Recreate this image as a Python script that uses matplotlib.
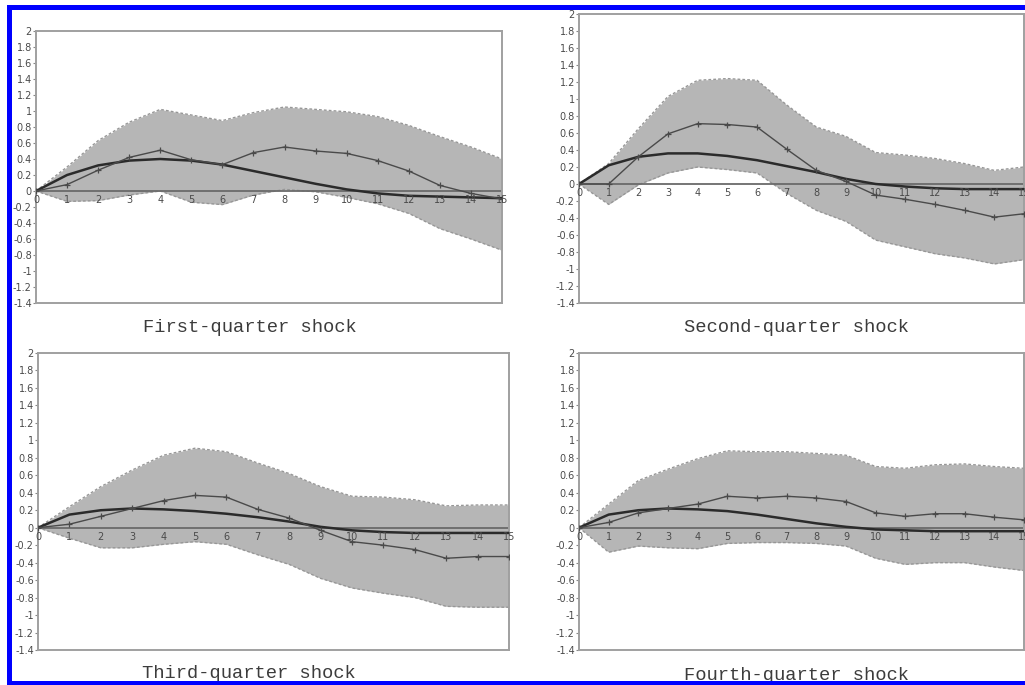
import numpy as np
import matplotlib.pyplot as plt
from matplotlib.patches import Rectangle

fig = plt.figure(figsize=(10.25, 6.85), dpi=100)

quarters = np.arange(16)
y_ticks = [2, 1.8, 1.6, 1.4, 1.2, 1, 0.8, 0.6, 0.4, 0.2, 0, -0.2, -0.4, -0.6, -0.8, -1, -1.2, -1.4]

# first-quarter shock
q1_upper = [0, 0.30, 0.63, 0.86, 1.02, 0.95, 0.88, 0.98, 1.05, 1.02, 0.99, 0.93, 0.82, 0.68, 0.55, 0.40]
q1_lower = [0, -0.13, -0.12, -0.05, 0.0, -0.14, -0.17, -0.05, 0.02, -0.01, -0.08, -0.16, -0.28, -0.47, -0.60, -0.74]
q1_resp = [0, 0.08, 0.26, 0.42, 0.51, 0.39, 0.33, 0.48, 0.55, 0.50, 0.47, 0.38, 0.25, 0.07, -0.03, -0.10]
q1_smooth = [0, 0.20, 0.32, 0.38, 0.40, 0.38, 0.33, 0.25, 0.17, 0.09, 0.02, -0.03, -0.06, -0.07, -0.08, -0.09]

# second-quarter shock
q2_upper = [0, 0.24, 0.65, 1.03, 1.22, 1.24, 1.22, 0.93, 0.67, 0.56, 0.37, 0.34, 0.30, 0.24, 0.16, 0.20]
q2_lower = [0, -0.24, -0.01, 0.13, 0.20, 0.17, 0.13, -0.11, -0.31, -0.44, -0.66, -0.74, -0.82, -0.87, -0.94, -0.89]
q2_resp = [0, 0.0, 0.32, 0.59, 0.71, 0.70, 0.67, 0.41, 0.16, 0.03, -0.13, -0.18, -0.24, -0.31, -0.39, -0.35]
q2_smooth = [0, 0.22, 0.32, 0.36, 0.36, 0.33, 0.28, 0.21, 0.14, 0.06, 0.0, -0.03, -0.05, -0.06, -0.06, -0.06]

# third-quarter shock
q3_upper = [0, 0.24, 0.47, 0.66, 0.83, 0.91, 0.87, 0.74, 0.62, 0.47, 0.36, 0.35, 0.32, 0.25, 0.26, 0.26]
q3_lower = [0, -0.12, -0.23, -0.23, -0.19, -0.16, -0.19, -0.31, -0.42, -0.58, -0.69, -0.75, -0.80, -0.90, -0.91, -0.91]
q3_resp = [0, 0.04, 0.13, 0.22, 0.31, 0.37, 0.35, 0.21, 0.11, -0.03, -0.16, -0.20, -0.25, -0.35, -0.33, -0.33]
q3_smooth = [0, 0.15, 0.20, 0.22, 0.21, 0.19, 0.16, 0.12, 0.07, 0.01, -0.03, -0.05, -0.06, -0.06, -0.06, -0.06]

# fourth-quarter shock
q4_upper = [0, 0.27, 0.54, 0.67, 0.79, 0.88, 0.87, 0.87, 0.85, 0.83, 0.70, 0.68, 0.72, 0.73, 0.70, 0.68]
q4_lower = [0, -0.28, -0.21, -0.23, -0.24, -0.18, -0.17, -0.17, -0.18, -0.21, -0.35, -0.42, -0.40, -0.40, -0.45, -0.49]
q4_resp = [0, 0.06, 0.17, 0.22, 0.27, 0.36, 0.34, 0.36, 0.34, 0.30, 0.17, 0.13, 0.16, 0.16, 0.12, 0.09]
q4_smooth = [0, 0.15, 0.20, 0.22, 0.21, 0.19, 0.15, 0.10, 0.05, 0.01, -0.02, -0.03, -0.04, -0.04, -0.04, -0.04]

W, H = 1025, 685


def px_axes(left, top, right, bottom):
    return fig.add_axes([left / W, (H - bottom) / H, (right - left) / W, (bottom - top) / H])


def irf_panel(ax, upper, lower, resp, smooth):
    ax.fill_between(quarters, lower, upper, color='#b6b6b6', lw=0, zorder=1)
    ax.plot(quarters, upper, ls=(0, (2, 1.5)), color='#979797', lw=1, zorder=2)
    ax.plot(quarters, lower, ls=(0, (2, 1.5)), color='#979797', lw=1, zorder=2)
    ax.axhline(0, color='#6a6a6a', lw=1.3, zorder=2)
    ax.plot(quarters, smooth, color='#2b2b2b', lw=1.8, zorder=3)
    ax.plot(quarters, resp, color='#4a4a4a', lw=1.0, marker='+', ms=4, mew=0.9, zorder=4)

    ax.set_xlim(0, 15)
    ax.set_ylim(-1.4, 2)
    ax.set_yticks(y_ticks)
    ax.set_yticklabels([f'{v:g}' for v in y_ticks])
    ax.tick_params(axis='y', length=2, width=0.8, color='#888888', labelsize=7,
                   labelcolor='#4a4a4a', pad=1)
    ax.set_xticks([])
    for s in ax.spines.values():
        s.set_color('#a0a0a0')
        s.set_linewidth(1.4)

    # quarter labels sit on the zero line, above the band
    sec = ax.secondary_xaxis(1.4 / 3.4)
    sec.set_zorder(6)
    sec.set_xticks(quarters)
    sec.tick_params(length=0, labelsize=7, labelcolor='#4a4a4a', pad=3)
    sec.spines['bottom'].set_visible(False)


ax1 = px_axes(36, 31, 502, 303)
ax2 = px_axes(579, 14, 1024, 303)
ax3 = px_axes(38, 353, 509, 650)
ax4 = px_axes(579, 353, 1024, 650)

irf_panel(ax1, q1_upper, q1_lower, q1_resp, q1_smooth)
irf_panel(ax2, q2_upper, q2_lower, q2_resp, q2_smooth)
irf_panel(ax3, q3_upper, q3_lower, q3_resp, q3_smooth)
irf_panel(ax4, q4_upper, q4_lower, q4_resp, q4_smooth)

title_kw = dict(family='Liberation Mono', fontsize=13.5, color='#3c3c3c', ha='center', va='center')
fig.text(250 / W, 1 - 328 / H, 'First-quarter shock', **title_kw)
fig.text(797 / W, 1 - 328 / H, 'Second-quarter shock', **title_kw)
fig.text(249 / W, 1 - 674 / H, 'Third-quarter shock', **title_kw)
fig.text(797 / W, 1 - 675 / H, 'Fourth-quarter shock', **title_kw)

# blue frame, with white margin outside it
def px_rect(x0, y0, x1, y1, color):
    fig.add_artist(Rectangle((x0 / W, 1 - y1 / H), (x1 - x0) / W, (y1 - y0) / H,
                             transform=fig.transFigure, facecolor=color, edgecolor='none', zorder=10))

px_rect(0, 0, 7, H, 'white')
px_rect(0, 0, W, 5, 'white')
px_rect(7, 5, 12, H, '#0000ff')
px_rect(7, 5, W, 10, '#0000ff')
px_rect(7, 681, W, H, '#0000ff')

fig.savefig('out.png', dpi=100)
